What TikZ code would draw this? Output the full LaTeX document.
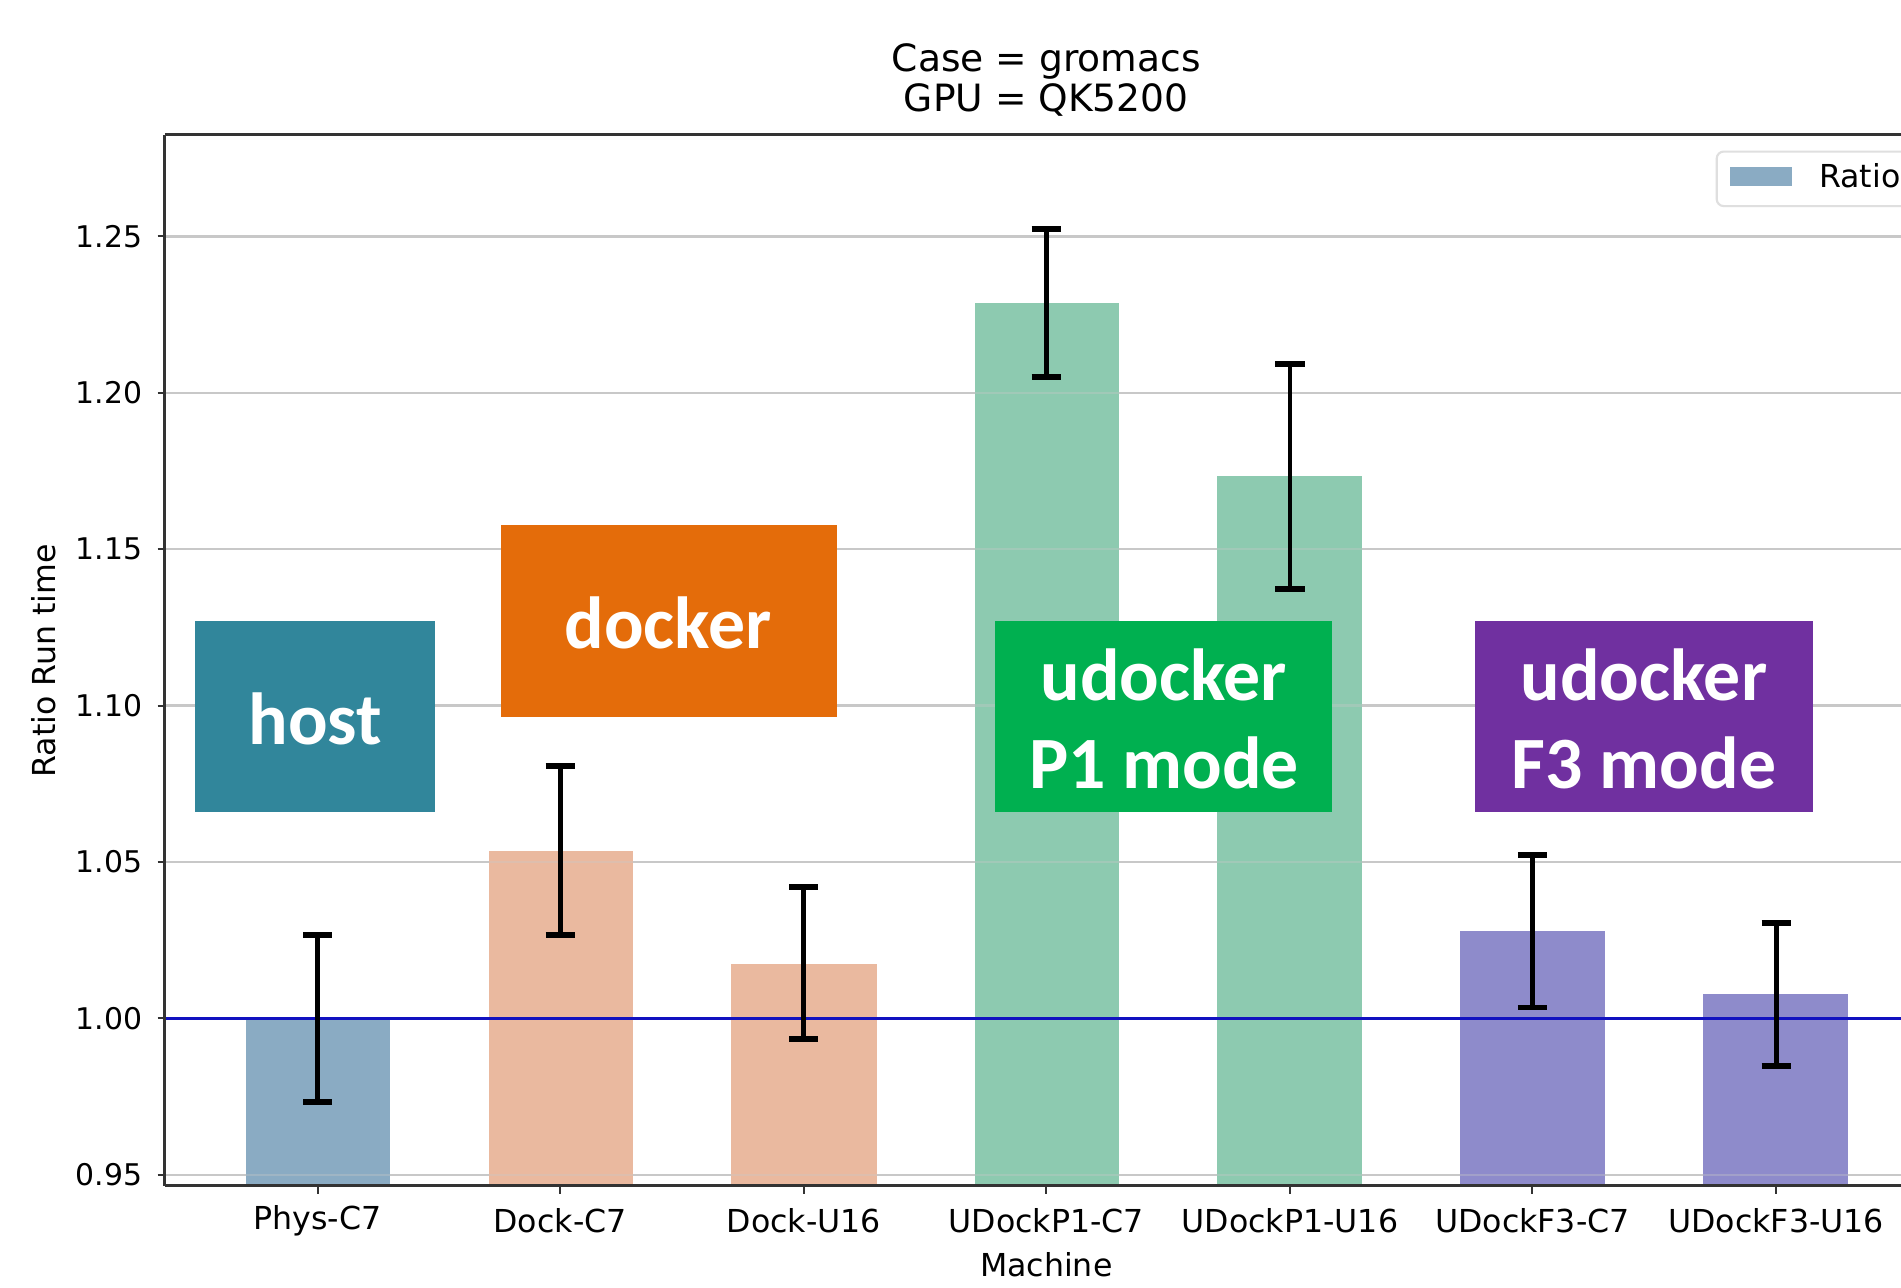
\documentclass[tikz,border=0pt]{standalone}
\usepackage{fontspec}
\newfontfamily\dvs{DejaVu Sans}
\newfontfamily\calb{Carlito}
\definecolor{hostc}{HTML}{31869B}
\definecolor{dockc}{HTML}{E46C0A}
\definecolor{pone}{HTML}{00B050}
\definecolor{fthree}{HTML}{7030A0}
\definecolor{barA}{HTML}{8AABC3}
\definecolor{barB}{HTML}{EAB99F}
\definecolor{barC}{HTML}{8DCAB0}
\definecolor{barD}{HTML}{8E8BCB}
\definecolor{gridc}{HTML}{C8C8C8}
\definecolor{spine}{HTML}{333333}
\definecolor{refline}{HTML}{1212C0}
\tikzset{
  gridln/.style={gridc, line width=0.7pt},
  spineln/.style={spine, line width=0.8pt},
  tickln/.style={spine, line width=0.6pt},
  errb/.style={black, line width=1.4pt},
  capln/.style={black, line width=1.7pt},
  ylab/.style={font=\dvs\fontsize{8.5}{10}\selectfont, anchor=east, inner sep=0pt},
  xlab/.style={font=\dvs\fontsize{9}{11}\selectfont, inner sep=0pt},
  annot/.style={text=white, font=\calb\bfseries\fontsize{21}{25.2}\selectfont, align=center, inner sep=0pt},
}
\newcommand\errbar[3]{%
  \draw[errb] (#1,#2) -- (#1,#3);
  \draw[capln] (#1-12,#2) -- (#1+12,#2);
  \draw[capln] (#1-12,#3) -- (#1+12,#3);}
\begin{document}
\begin{tikzpicture}[x=0.012124cm, y=-0.012124cm]
\useasboundingbox (0,0) rectangle (1568,1062);
\clip (0,0) rectangle (1568,1062);
\fill[white] (0,0) rectangle (1568,1062);
% gridlines
\foreach \yy in {195,324,453,582,711,969} {
  \draw[gridln] (136,\yy) -- (1568,\yy);
  \draw[tickln] (130,\yy) -- (136,\yy);
}
\draw[tickln] (130,840) -- (136,840);
% bars
\fill[barA] (203,840) rectangle (322,978);
\fill[barB] (403,702) rectangle (522,978);
\fill[barB] (603,795) rectangle (723,978);
\fill[barC] (804,250) rectangle (923,978);
\fill[barC] (1004,393) rectangle (1123,978);
\fill[barD] (1204,768) rectangle (1324,978);
\fill[barD] (1405,820) rectangle (1524,978);
% gridlines showing faintly through bars
\foreach \yy in {195,324,453,582,711,969} {
  \draw[gridln, draw opacity=0.35] (136,\yy) -- (1568,\yy);
}
% reference line at 1.00
\draw[refline, line width=1pt] (136,840) -- (1568,840);
% error bars
\errbar{262}{771}{909}
\errbar{462}{632}{771}
\errbar{663}{732}{857}
\errbar{863}{189}{311}
\errbar{1064}{300}{486}
\errbar{1264}{705}{831}
\errbar{1465}{761}{879}
% spines
\draw[spineln] (136,111) -- (1568,111);
\draw[spineln] (136,978) -- (1568,978);
\draw[spineln] (136,111) -- (136,978);
% x ticks
\foreach \xx in {262,462,663,863,1064,1264,1465} {
  \draw[tickln] (\xx,978) -- (\xx,985);
}
% y tick labels
\node[ylab] (t125) at (118,195) {1.25};
\node[ylab] (t120) at (118,324) {1.20};
\node[ylab] (t115) at (118,453) {1.15};
\node[ylab] (t110) at (118,582) {1.10};
\node[ylab] (t105) at (118,711) {1.05};
\node[ylab] (t100) at (118,840) {1.00};
\node[ylab] (t095) at (118,969) {0.95};
% x tick labels
\node[xlab] (m1) at (262,1007) {Phys-C7};
\node[xlab] (m2) at (462,1007) {Dock-C7};
\node[xlab] (m3) at (663,1007) {Dock-U16};
\node[xlab] (m4) at (863,1007) {UDockP1-C7};
\node[xlab] (m5) at (1064,1007) {UDockP1-U16};
\node[xlab] (m6) at (1264,1007) {UDockF3-C7};
\node[xlab] (m7) at (1465,1007) {UDockF3-U16};
% axis labels
\node[xlab] (xl) at (863,1043) {Machine};
\node[xlab, rotate=90] (yl) at (36,545) {Ratio Run time};
% title
\node[font=\dvs\fontsize{10.7}{11.4}\selectfont, align=center, inner sep=0pt] (title) at (863,66) {Case = gromacs\\GPU = QK5200};
% legend
\draw[gray!25, fill=white, rounded corners=2pt, line width=0.6pt] (1416,125) rectangle (1620,170);
\fill[barA] (1427,138) rectangle (1478,153);
\node[xlab, anchor=west] (leg) at (1500,145) {Ratio};
% annotation boxes
\fill[hostc] (161,512) rectangle (359,670);
\node[annot] (host) at (260,593) {host};
\fill[dockc] (413,433) rectangle (690,591);
\node[annot] (docker) at (551,514) {docker};
\fill[pone] (821,512) rectangle (1099,670);
\node[annot] (p1) at (960,593) {udocker\\P1 mode};
\fill[fthree] (1217,512) rectangle (1495,670);
\node[annot] (f3) at (1356,593) {udocker\\F3 mode};
\end{tikzpicture}
\end{document}
